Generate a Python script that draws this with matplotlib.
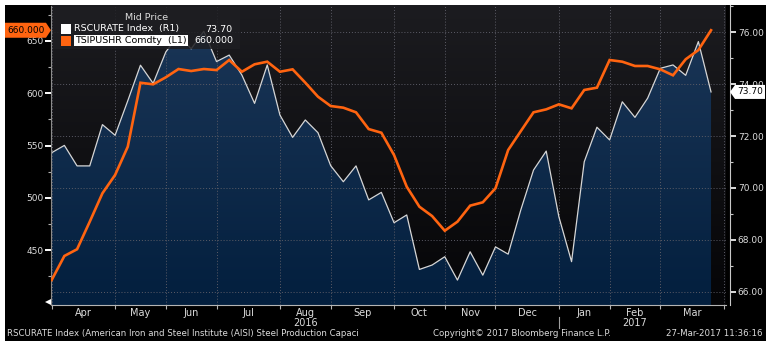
import numpy as np
import matplotlib.pyplot as plt
from matplotlib.patches import Polygon, Rectangle
from matplotlib.colors import LinearSegmentedColormap

# weekly readings
rscurate = [71.36, 71.64, 70.85, 70.85, 72.44, 72.03, 73.36, 74.73, 74.03, 75.24,
            75.90, 75.36, 76.04, 74.87, 75.12, 74.35, 73.26, 74.74, 72.81, 71.95,
            72.62, 72.13, 70.86, 70.24, 70.85, 69.54, 69.83, 68.66, 68.96, 66.86,
            67.03, 67.35, 66.45, 67.54, 66.64, 67.73, 67.45, 69.16, 70.69, 71.42,
            68.89, 67.16, 71.01, 72.34, 71.85, 73.32, 72.72, 73.46, 74.61, 74.74,
            74.34, 75.64, 73.70]
tsipushr = [421.7, 444.6, 451.0, 477.3, 504.4, 521.9, 548.9, 609.9, 608.4, 615.1,
            623.0, 621.1, 623.0, 622.0, 631.6, 620.4, 627.5, 630.0, 620.4, 622.7,
            610.0, 596.6, 587.7, 586.1, 581.7, 565.7, 562.2, 540.9, 510.7, 491.6,
            482.7, 468.7, 477.3, 492.6, 495.8, 509.2, 545.7, 563.8, 581.7, 584.5,
            589.3, 585.5, 603.0, 605.2, 631.6, 630.0, 625.9, 625.9, 622.7, 617.0,
            632.3, 641.1, 660.0]

# week index where each month starts, and the month names between them
month_starts = [0, 5, 9, 13, 18, 22, 27, 31, 35, 40, 44, 48, 53]
months = ['Apr', 'May', 'Jun', 'Jul', 'Aug', 'Sep', 'Oct', 'Nov', 'Dec', 'Jan', 'Feb', 'Mar']
years = [('2016', 'Aug'), ('2017', 'Feb')]

right_ticks = [66, 68, 70, 72, 74, 76]
left_ticks = [450, 500, 550, 600, 650]

W, H = 771, 344
def fx(x): return x / W
def fy(y): return 1 - y / H

txt = '#dcdcdc'
orange = '#ff6410'

fig = plt.figure(figsize=(W / 100, H / 100), dpi=100, facecolor='white')
fig.add_artist(Rectangle((fx(5), fy(341)), 761 / W, 336 / H, transform=fig.transFigure,
                         facecolor='black', edgecolor='none', zorder=-1))

ax = fig.add_axes([fx(51), fy(305), 675 / W, 300 / H])
ax.set_facecolor('none')
ax2 = ax.twinx()

weeks = np.arange(len(rscurate))

# background gradient
grad = np.linspace(0, 1, 256).reshape(-1, 1)
bg_cmap = LinearSegmentedColormap.from_list('bg', ['#1c1c20', '#050507'])
ax.imshow(grad, cmap=bg_cmap, extent=[0, 1, 0, 1], transform=ax.transAxes,
          aspect='auto', zorder=0)

# area under the utilisation line, shaded with a navy gradient
area = ax.fill_between(weeks, rscurate, 50, facecolor='none', edgecolor='none')
fill_cmap = LinearSegmentedColormap.from_list('fill', ['#1c3758', '#031f3e'])
im = ax.imshow(grad, cmap=fill_cmap, extent=[0, 1, 0, 1], transform=ax.transAxes,
               aspect='auto', zorder=1)
im.set_clip_path(area.get_paths()[0], transform=ax.transData)

ax.plot(weeks, rscurate, color='#d6d6d6', lw=0.9, zorder=2)
ax2.plot(weeks, tsipushr, color=orange, lw=1.9, zorder=3, solid_joinstyle='miter')

ax.set_xlim(-0.055, 53.18)
ax.set_ylim(65.49, 77.05)
ax2.set_ylim(397.8, 684.1)

# grid follows right axis and month starts
ax.set_axisbelow('line')
ax.grid(True, which='major', ls=(0, (1, 2)), color='#5c5c66', lw=0.7)

ax.yaxis.tick_right()
ax.set_yticks(right_ticks, labels=[f'{v:.2f}' for v in right_ticks])
ax.set_yticks(np.arange(67, 78, 2), minor=True)
ax.tick_params(axis='y', which='major', direction='out', length=4, width=1.2,
               color='white', labelcolor=txt, labelsize=6.5, pad=1.5)
ax.tick_params(axis='y', which='minor', direction='out', length=2, width=0.8, color='#c8c8c8')

ax2.yaxis.tick_left()
ax2.set_yticks(left_ticks, labels=[str(v) for v in left_ticks])
ax2.set_yticks(np.arange(425, 700, 50), minor=True)
ax2.tick_params(axis='y', which='major', direction='out', length=4, width=1.4,
                color='white', labelcolor=txt, labelsize=6.5, pad=1.5)
ax2.tick_params(axis='y', which='minor', direction='out', length=2, width=0.8, color='#b0b0b0')

mids = [(a + b) / 2 for a, b in zip(month_starts[:-1], month_starts[1:])]
ax.set_xticks(month_starts, labels=[''] * len(month_starts))
ax.set_xticks(mids, labels=months, minor=True)
ax.tick_params(axis='x', which='major', direction='out', length=3, width=0.8, color='#b4b4b4')
ax.tick_params(axis='x', which='minor', length=0, labelsize=7, labelcolor=txt, pad=2.5)
ax.grid(False, axis='x', which='minor')

xt = ax.get_xaxis_transform()
for yr, mon in years:
    ax.text(mids[months.index(mon)], -0.059, yr, transform=xt, ha='center', va='center',
            fontsize=7, color=txt, clip_on=False)
ax.plot([month_starts[months.index('Jan')]] * 2, [-0.04, -0.077], transform=xt,
        clip_on=False, color='#a0a0a0', lw=0.8)

for s in ['top', 'left']:
    ax.spines[s].set_visible(False)
ax.spines['bottom'].set_color('#b4b4b4')
ax.spines['right'].set_color('#c8c8c8')
ax.spines['right'].set_position(('outward', 3))
for s in ['top', 'right', 'bottom']:
    ax2.spines[s].set_visible(False)
ax2.spines['left'].set_color('#8c8c8c')
ax2.spines['left'].set_linewidth(0.8)
ax2.spines['left'].set_linestyle((0, (2, 1)))

# small end marker at the foot of the left axis
fig.add_artist(Polygon([(fx(45), fy(302)), (fx(51), fy(299)), (fx(51), fy(305))], closed=True,
                       transform=fig.transFigure, facecolor='white', edgecolor='none', zorder=5))

# last-value tags on both axes
last_l = f'{tsipushr[-1]:.3f}'
last_r = f'{rscurate[-1]:.2f}'
yl = H - ax2.transData.transform((0, tsipushr[-1]))[1]
yr_ = H - ax.transData.transform((0, rscurate[-1]))[1]

tag_l = [(51, yl), (46, yl - 7.5), (5, yl - 7.5), (5, yl + 7.5), (46, yl + 7.5)]
fig.add_artist(Polygon([(fx(x), fy(y)) for x, y in tag_l], closed=True,
                       transform=fig.transFigure, facecolor=orange, edgecolor='none', zorder=5))
fig.text(fx(26), fy(yl), last_l, ha='center', va='center', fontsize=6.5, color='black', zorder=6)

tag_r = [(730, yr_), (735, yr_ - 7), (765, yr_ - 7), (765, yr_ + 7), (735, yr_ + 7)]
fig.add_artist(Polygon([(fx(x), fy(y)) for x, y in tag_r], closed=True,
                       transform=fig.transFigure, facecolor='white', edgecolor='none', zorder=5))
fig.text(fx(750), fy(yr_), last_r, ha='center', va='center', fontsize=6.5, color='black', zorder=6)

# legend panel
fig.add_artist(Rectangle((fx(53), fy(49)), 187 / W, 42 / H, transform=fig.transFigure,
                         facecolor='#1e1e22', edgecolor='none', alpha=0.85, zorder=4))
fig.text(fx(147), fy(18), 'Mid Price', ha='center', va='center', fontsize=6.8, color=txt, zorder=6)
fig.add_artist(Rectangle((fx(61), fy(34)), 10 / W, 10 / H, transform=fig.transFigure,
                         facecolor='white', edgecolor='none', zorder=6))
fig.add_artist(Rectangle((fx(61), fy(46)), 10 / W, 10 / H, transform=fig.transFigure,
                         facecolor=orange, edgecolor='none', zorder=6))
fig.text(fx(74), fy(29), 'RSCURATE Index  (R1)', ha='left', va='center', fontsize=6.8,
         color='white', zorder=6)
fig.text(fx(232), fy(29), last_r, ha='right', va='center', fontsize=6.8, color='white', zorder=6)
fig.text(fx(75), fy(40.5), 'TSIPUSHR Comdty  (L1)', ha='left', va='center', fontsize=6.8,
         color='black', zorder=6,
         bbox=dict(facecolor='white', edgecolor='none', boxstyle='square,pad=0.12'))
fig.text(fx(233), fy(40.5), last_l, ha='right', va='center', fontsize=6.8, color='white', zorder=6)

# footer
fig.text(fx(7), fy(333), 'RSCURATE Index (American Iron and Steel Institute (AISI) Steel Production Capaci',
         ha='left', va='center', fontsize=6.2, color=txt)
fig.text(fx(433), fy(333), 'Copyright\u00a9 2017 Bloomberg Finance L.P.', ha='left', va='center',
         fontsize=6.2, color=txt)
fig.text(fx(763), fy(333), '27-Mar-2017 11:36:16', ha='right', va='center', fontsize=6.2, color=txt)

fig.savefig('out.png', dpi=100, facecolor='white')
